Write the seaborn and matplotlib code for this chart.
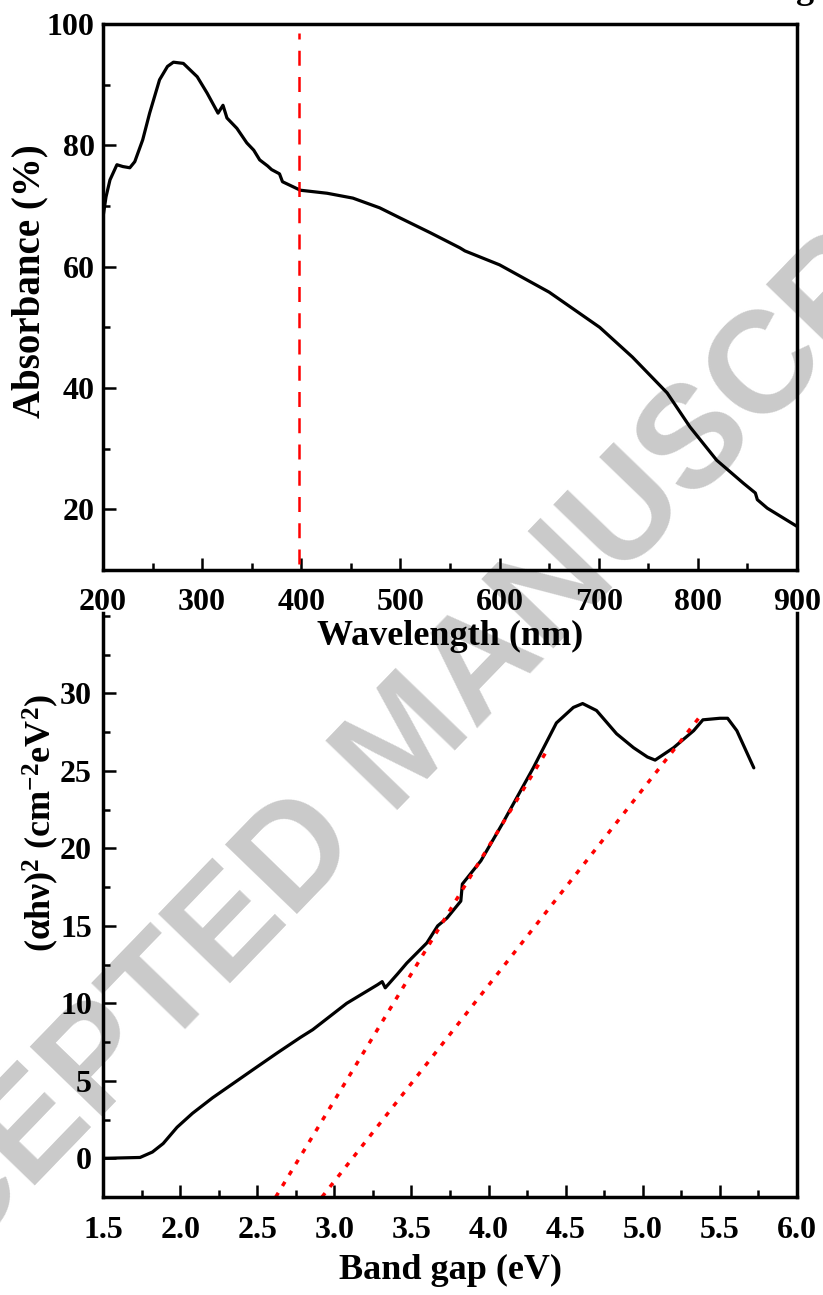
import matplotlib
matplotlib.use('Agg')
import matplotlib.pyplot as plt
import seaborn as sns
from matplotlib.ticker import MultipleLocator

# UV-vis absorbance (top panel)
wavelength = [200, 203, 207, 214, 220, 227, 232, 240, 247, 257, 265, 271, 281, 295,
              305, 316, 321, 325, 335, 345, 352, 358, 366, 370, 378, 381, 399, 426,
              452, 479, 500, 530, 560, 565, 600, 650, 701, 734, 769, 792, 819, 846,
              858, 860, 870, 898, 900]
absorbance = [68.2, 71.5, 74.3, 76.8, 76.5, 76.3, 77.3, 80.9, 85.3, 90.8, 93.0, 93.7,
              93.5, 91.3, 88.6, 85.3, 86.6, 84.5, 82.8, 80.4, 79.2, 77.6, 76.6, 76.0,
              75.3, 74.0, 72.6, 72.1, 71.3, 69.7, 68.0, 65.6, 63.1, 62.6, 60.3, 55.8,
              50.0, 45.1, 39.2, 33.6, 28.1, 24.3, 22.7, 21.6, 20.2, 17.4, 17.2]
vline_x = 398
vline_y = [11, 98.5]

# Tauc plot (bottom panel)
band_gap = [1.50, 1.53, 1.74, 1.82, 1.89, 1.98, 2.08, 2.21, 2.34, 2.47, 2.63, 2.78,
            2.86, 3.08, 3.28, 3.31, 3.33, 3.41, 3.47, 3.54, 3.60, 3.67, 3.73, 3.82,
            3.83, 3.95, 4.09, 4.29, 4.44, 4.55, 4.61, 4.70, 4.83, 4.94, 5.03, 5.08,
            5.20, 5.33, 5.39, 5.50, 5.55, 5.61, 5.72]
ahv2 = [0.0, 0.0, 0.05, 0.4, 0.95, 2.0, 2.9, 3.9, 4.8, 5.7, 6.8, 7.8, 8.3, 10.0, 11.2,
        11.4, 11.0, 11.9, 12.6, 13.3, 13.9, 15.0, 15.5, 16.6, 17.7, 19.2, 21.6, 25.2,
        28.1, 29.1, 29.35, 28.9, 27.4, 26.5, 25.9, 25.7, 26.5, 27.6, 28.3, 28.4, 28.4,
        27.6, 25.2]
fit1_x = [2.62, 4.39]
fit1_y = [-2.5, 26.5]
fit2_x = [2.92, 5.37]
fit2_y = [-2.5, 28.5]

sns.set_style('ticks')
plt.rcParams['font.family'] = ['Liberation Serif', 'DejaVu Serif']
plt.rcParams['font.weight'] = 'bold'
plt.rcParams['axes.labelweight'] = 'bold'
plt.rcParams['text.color'] = 'black'
plt.rcParams['axes.labelcolor'] = 'black'
plt.rcParams['mathtext.fontset'] = 'custom'
plt.rcParams['mathtext.rm'] = 'Liberation Serif:bold'
plt.rcParams['mathtext.it'] = 'Liberation Serif:bold'
plt.rcParams['mathtext.bf'] = 'Liberation Serif:bold'

fig = plt.figure(figsize=(8.23, 12.95), dpi=100)

# watermark behind everything
fig.text(0.530, 0.405, 'ACCEPTED MANUSCRIPT', family='Liberation Sans', weight='bold',
         fontsize=104, color='#cacaca', rotation=46, rotation_mode='anchor',
         ha='center', va='baseline', zorder=-5)
fig.text(0.978, 1.0015, 'g', fontsize=26, ha='center', va='baseline')

ax1 = fig.add_axes([0.1252, 0.5598, 0.8432, 0.4217])
ax2 = fig.add_axes([0.1252, 0.0757, 0.8432, 0.4510])

for ax in (ax1, ax2):
    ax.set_facecolor('none')
    for s in ax.spines.values():
        s.set_linewidth(2.5)
        s.set_color('black')
    ax.tick_params(which='both', direction='in', top=False, right=False, width=1.8,
                   labelsize=23, colors='black')
    ax.tick_params(which='major', length=9)
    ax.tick_params(which='minor', length=5)

ax2.spines['top'].set_visible(False)

# top panel
sns.lineplot(x=wavelength, y=absorbance, ax=ax1, color='black', lw=2.3,
             sort=False, estimator=None)
ax1.plot([vline_x, vline_x], vline_y, color='red', lw=1.8, ls=(0, (6, 4.5)))
ax1.set_xlim(200, 900)
ax1.set_ylim(10, 100)
ax1.xaxis.set_major_locator(MultipleLocator(100))
ax1.xaxis.set_minor_locator(MultipleLocator(50))
ax1.set_yticks([20, 40, 60, 80, 100])
ax1.yaxis.set_minor_locator(MultipleLocator(10))
ax1.tick_params(axis='x', which='major', pad=13)
ax1.tick_params(axis='y', which='major', pad=6)
ax1.set_xlabel('Wavelength (nm)', fontsize=26, labelpad=2)
ax1.set_ylabel('Absorbance (%)', fontsize=28)
ax1.yaxis.set_label_coords(-0.078, 0.53)

# bottom panel
sns.lineplot(x=band_gap, y=ahv2, ax=ax2, color='black', lw=2.3,
             sort=False, estimator=None)
ax2.plot(fit1_x, fit1_y, color='red', lw=2.5, ls=(0, (1.4, 2.3)), dash_capstyle='butt')
ax2.plot(fit2_x, fit2_y, color='red', lw=2.5, ls=(0, (1.4, 2.3)), dash_capstyle='butt')
ax2.set_xlim(1.5, 6.0)
ax2.set_ylim(-2.5, 35.2)
ax2.xaxis.set_major_locator(MultipleLocator(0.5))
ax2.xaxis.set_minor_locator(MultipleLocator(0.25))
ax2.set_yticks([0, 5, 10, 15, 20, 25, 30])
ax2.yaxis.set_minor_locator(MultipleLocator(2.5))
ax2.xaxis.set_major_formatter(matplotlib.ticker.FormatStrFormatter('%.1f'))
ax2.tick_params(axis='x', which='major', pad=14)
ax2.tick_params(axis='y', which='major', pad=8)
ax2.set_xlabel('Band gap (eV)', fontsize=26, labelpad=6)
ax2.set_ylabel(r'$(\alpha h\nu)^2$ (cm$^{\mathrm{-}2}$eV$^2$)', fontsize=26)
ax2.yaxis.set_label_coords(-0.06, 0.64)

fig.savefig('out.png', dpi=100)
